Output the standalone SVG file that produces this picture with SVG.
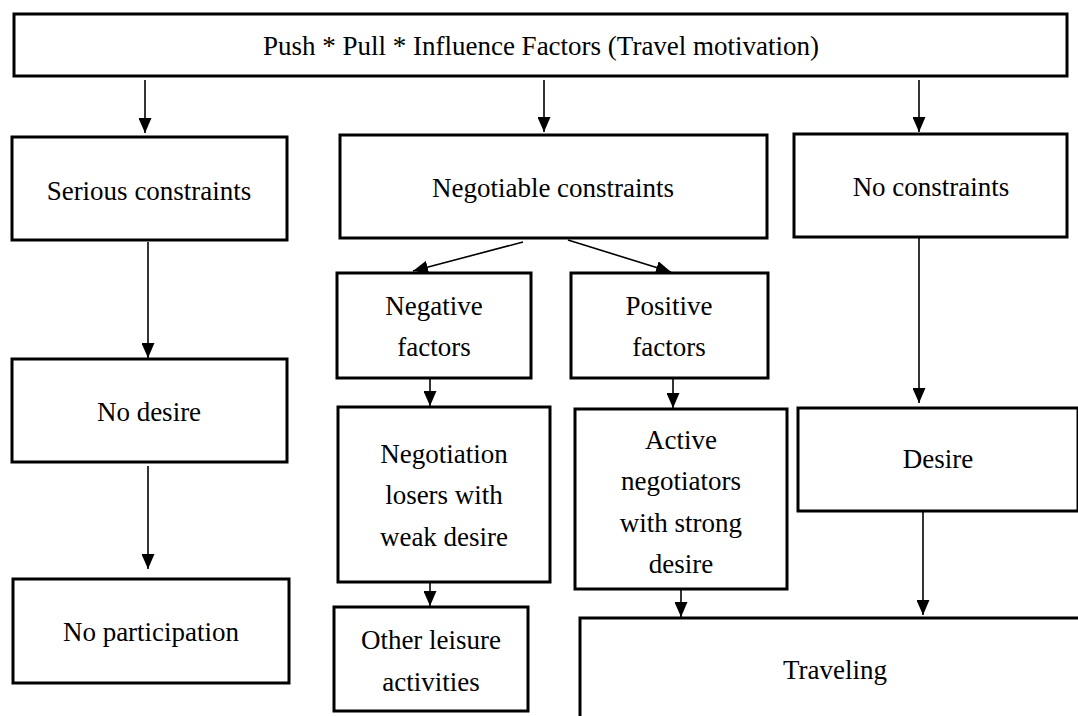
<svg xmlns="http://www.w3.org/2000/svg" width="1078" height="716" viewBox="0 0 1078 716">
<style>
.box{fill:#fff;stroke:#000;stroke-width:3}
.c{stroke:#000;stroke-width:1.6;fill:none;marker-end:url(#ah)}
</style>
<defs>
<marker id="ah" markerUnits="userSpaceOnUse" markerWidth="15" markerHeight="13" refX="15" refY="6.5" orient="auto">
<path d="M0,0 L15,6.5 L0,13 z" fill="#000"/>
</marker>
</defs>
<rect width="1078" height="716" fill="#fff"/>
<g font-family="Liberation Serif, serif" font-size="27" fill="#000" text-anchor="middle">
<g id="top"><rect class="box" x="14" y="14" width="1053" height="62"/><text x="541" y="55">Push * Pull * Influence Factors (Travel motivation)</text></g>
<g id="serious"><rect class="box" x="12" y="137" width="275" height="103"/><text x="149" y="200">Serious constraints</text></g>
<g id="negotiable"><rect class="box" x="340" y="135" width="427" height="103"/><text x="553" y="197">Negotiable constraints</text></g>
<g id="noconstraints"><rect class="box" x="794" y="134" width="273" height="103"/><text x="931" y="196">No constraints</text></g>
<g id="negative"><rect class="box" x="337" y="273" width="194" height="105"/><text x="434" y="315">Negative</text><text x="434" y="356">factors</text></g>
<g id="positive"><rect class="box" x="571" y="273" width="197" height="105"/><text x="669" y="315">Positive</text><text x="669" y="356">factors</text></g>
<g id="nodesire"><rect class="box" x="12" y="359" width="275" height="103"/><text x="149" y="421">No desire</text></g>
<g id="losers"><rect class="box" x="338" y="407" width="212" height="175"/><text x="444" y="463">Negotiation</text><text x="444" y="504">losers with</text><text x="444" y="546">weak desire</text></g>
<g id="active"><rect class="box" x="575" y="409" width="212" height="180"/><text x="681" y="449">Active</text><text x="681" y="490">negotiators</text><text x="681" y="532">with strong</text><text x="681" y="573">desire</text></g>
<g id="desire"><rect class="box" x="798" y="408" width="280" height="103"/><text x="938" y="468">Desire</text></g>
<g id="noparticipation"><rect class="box" x="13" y="579" width="276" height="104"/><text x="151" y="641">No participation</text></g>
<g id="other"><rect class="box" x="334" y="607" width="194" height="104"/><text x="431" y="649">Other leisure</text><text x="431" y="691">activities</text></g>
<g id="traveling"><rect class="box" x="580" y="618" width="600" height="200"/><text x="835" y="679">Traveling</text></g>
</g>
<g id="connectors">
<line class="c" x1="145" y1="80" x2="145" y2="133"/>
<line class="c" x1="544" y1="80" x2="544" y2="132"/>
<line class="c" x1="919" y1="80" x2="919" y2="132"/>
<line class="c" x1="148" y1="242" x2="148" y2="358"/>
<line class="c" x1="148" y1="466" x2="148" y2="569"/>
<line class="c" x1="523" y1="242" x2="413" y2="271"/>
<line class="c" x1="568" y1="240" x2="671" y2="272"/>
<line class="c" x1="430" y1="379" x2="430" y2="406"/>
<line class="c" x1="673" y1="379" x2="673" y2="408"/>
<line class="c" x1="430" y1="583" x2="430" y2="606"/>
<line class="c" x1="681" y1="590" x2="681" y2="617"/>
<line class="c" x1="919" y1="238" x2="919" y2="403"/>
<line class="c" x1="923" y1="512" x2="923" y2="615"/>
</g>
</svg>
